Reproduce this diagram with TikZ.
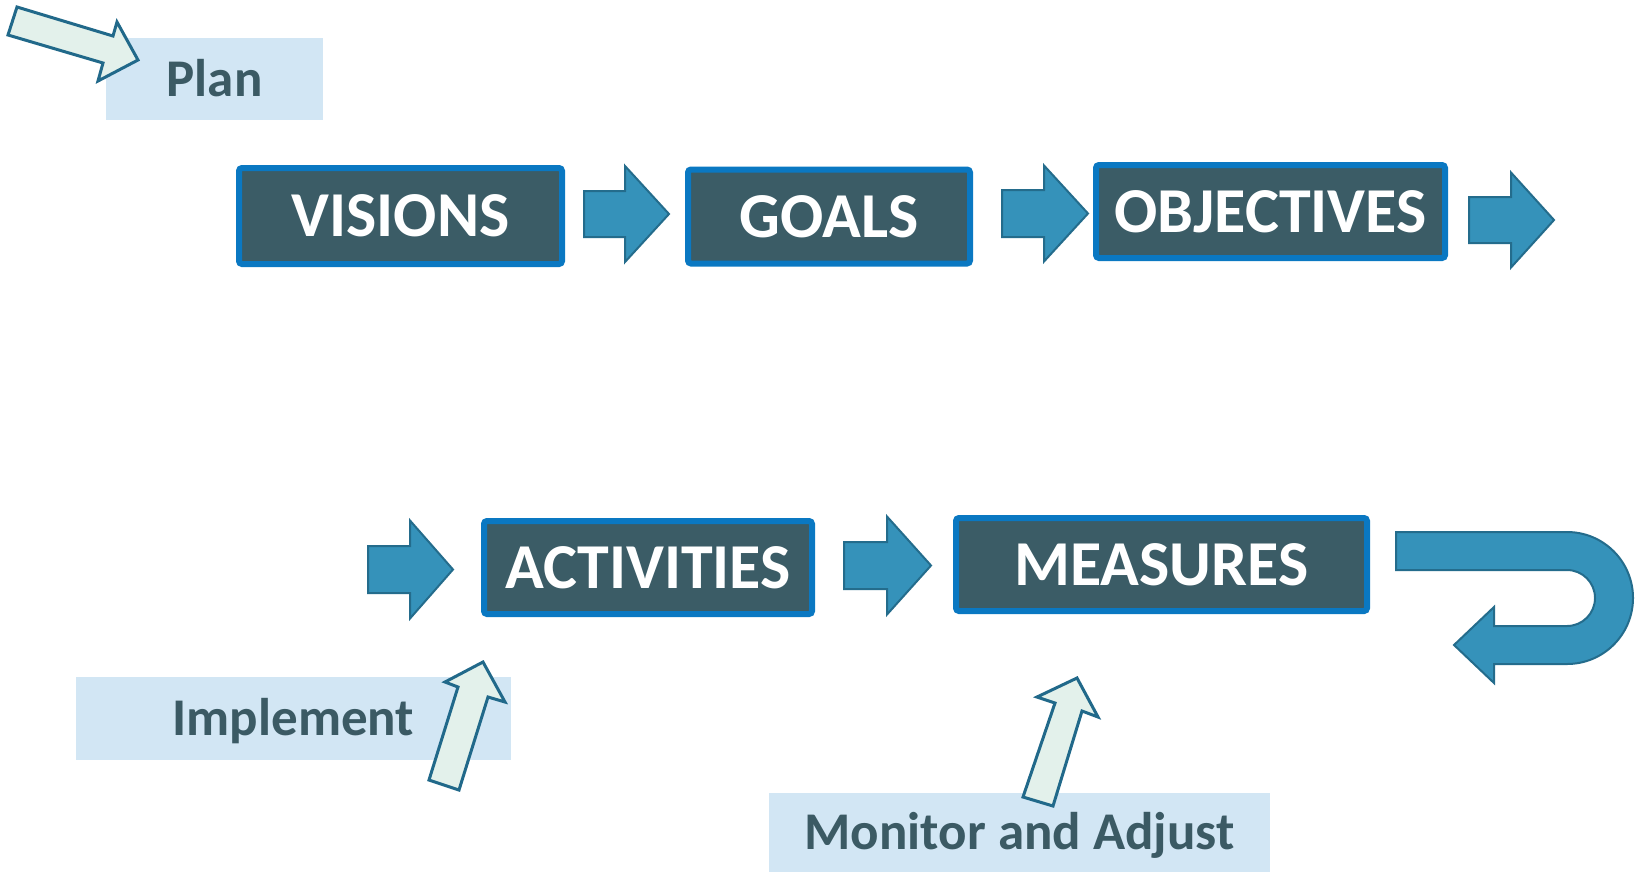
\documentclass[tikz,border=0pt]{standalone}
\usepackage{fontspec}
\setmainfont{Carlito}
\definecolor{boxfill}{HTML}{3B5C66}
\definecolor{boxline}{HTML}{0A78C2}
\definecolor{arrfill}{HTML}{3592BA}
\definecolor{arrline}{HTML}{246C8C}
\definecolor{lblfill}{HTML}{D2E6F4}
\definecolor{lbltext}{HTML}{3B5A64}
\definecolor{smfill}{HTML}{E3F1EB}
\definecolor{smline}{HTML}{21698A}
\newcommand\rblock[6]{%
  \draw[bigarrow] (#1,#4-#5) -- (#2,#4-#5) -- (#2,#4-#6) -- (#3,#4) -- (#2,#4+#6) -- (#2,#4+#5) -- (#1,#4+#5) -- cycle;}
\tikzset{
  stepbox/.style={draw=boxline, line width=6pt, fill=boxfill, rounded corners=3pt,
    text=white, inner sep=0pt, font=\fontsize{64}{70}\selectfont\bfseries},
  lblbox/.style={fill=lblfill, inner sep=0pt, text=lbltext, text height=34pt, text depth=0pt,
    font=\fontsize{53}{60}\selectfont\bfseries},
  bigarrow/.style={fill=arrfill, draw=arrline, line width=2pt, line join=miter},
  smallarrow/.style={fill=smfill, draw=smline, line width=3pt, line join=miter},
}
\begin{document}
\begin{tikzpicture}[x=1pt, y=-1pt]
\useasboundingbox (0,0) rectangle (1640,871);
\fill[white] (0,0) rectangle (1640,871);
% label boxes
\node[lblbox, minimum width=217pt, minimum height=82pt] (plan) at (214.5,79) {Plan};
\node[lblbox, minimum width=435pt, minimum height=83pt] (implement) at (293.5,718.5) {Implement};
\node[lblbox, minimum width=501pt, minimum height=79pt] (monitor) at (1019.5,832.5) {Monitor and Adjust};
% small arrows
\draw[smallarrow] (17,7) -- (113,36) -- (117,22) -- (138,60) -- (98,81) -- (103,63) -- (8,35) -- cycle;
\draw[smallarrow] (429,780) -- (458,687) -- (445,682) -- (483,662) -- (505,702) -- (488,697) -- (459,790) -- cycle;
\draw[smallarrow] (1023,797) -- (1055,703) -- (1037,697) -- (1077,678) -- (1098,717) -- (1082,711) -- (1053,806) -- cycle;
% step boxes
\node[stepbox, minimum width=323pt, minimum height=96pt] (visions) at (400.5,216) {VISIONS};
\node[stepbox, minimum width=282pt, minimum height=94pt] (goals) at (829,216.5) {GOALS};
\node[stepbox, minimum width=349pt, minimum height=93pt] (objectives) at (1270.5,211.5) {OBJECTIVES};
\node[stepbox, minimum width=328pt, minimum height=93pt] (activities) at (648,567.5) {ACTIVITIES};
\node[stepbox, minimum width=411pt, minimum height=93pt] (measures) at (1161.5,564.5) {MEASURES};
% block arrows
\rblock{584}{625}{669}{214}{23}{48}
\rblock{1002}{1044}{1088}{213.5}{23.5}{48}
\rblock{1469}{1511}{1554}{220}{23}{47.5}
\rblock{368}{410}{453}{569.5}{23.5}{49}
\rblock{844}{887}{931}{565.5}{23.5}{49}
% U-turn arrow
\draw[bigarrow] (1396,532) -- (1567,532)
  .. controls (1603.5,532) and (1633,561.5) .. (1633,598)
  .. controls (1633,634.5) and (1603.5,664) .. (1567,664)
  -- (1494,664) -- (1494,683) -- (1454,645) -- (1494,607) -- (1494,626) -- (1567,626)
  .. controls (1582.5,626) and (1595,613.5) .. (1595,598)
  .. controls (1595,582.5) and (1582.5,570) .. (1567,570)
  -- (1396,570) -- cycle;
\end{tikzpicture}
\end{document}
